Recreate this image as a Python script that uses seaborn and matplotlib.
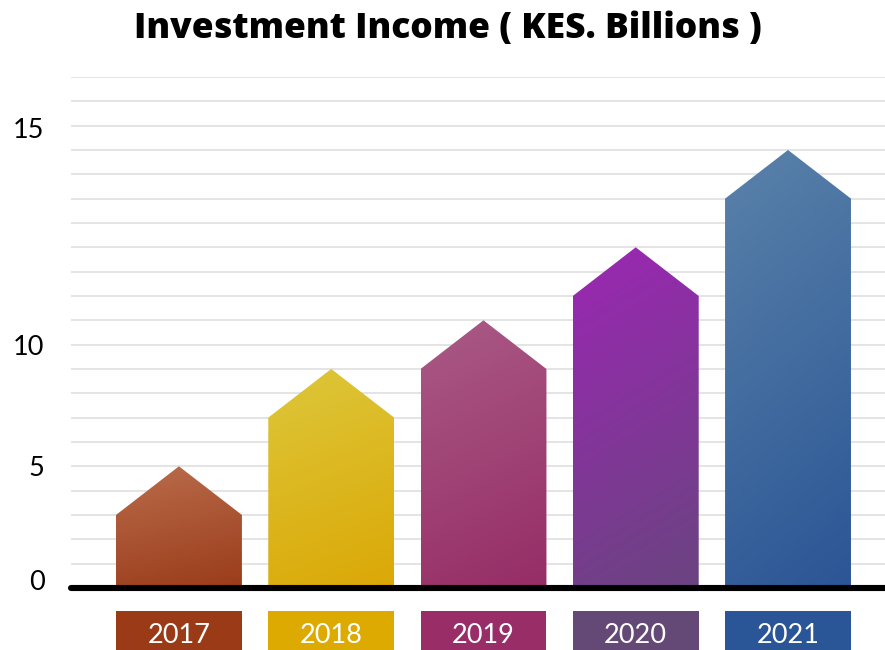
import numpy as np
import pandas as pd
import matplotlib
matplotlib.use("Agg")
import matplotlib.pyplot as plt
import seaborn as sns
from matplotlib.patches import Polygon, Rectangle
from matplotlib.colors import to_rgb

# ---- data -------------------------------------------------------------
years = ["2017", "2018", "2019", "2020", "2021"]
income = [5, 9, 11, 14, 18]            # height of each arrow tip (grid units)
tick_values = [0.33, 5, 10, 18.9]
tick_labels = ["0", "5", "10", "15"]

top_colors = ["#ba6c4c", "#ddc73a", "#aa5a86", "#9b27b3", "#5a82aa"]
bottom_colors = ["#9a3c1a", "#dba806", "#962d66", "#6a4480", "#2b5595"]
label_colors = ["#9a3a17", "#dcaa00", "#982d68", "#644876", "#2a5597"]

df = pd.DataFrame({"year": years, "income": income})

# ---- style ------------------------------------------------------------
sns.set_theme(style="white")
plt.rcParams["font.family"] = ["Lato", "DejaVu Sans"]

fig = plt.figure(figsize=(8.85, 6.5), dpi=100)
ax = fig.add_axes([71 / 885, 0.0, 1 - 71 / 885, 1 - 77 / 650])

sns.barplot(data=df, x="year", y="income", width=0.827, ax=ax,
            color="white", saturation=1, zorder=3)

ax.set_xlim(-0.709, 4.637)
ax.set_ylim(-2.55, 21)

# light horizontal rules
for gy in range(1, 22):
    ax.axhline(gy, color="#e2e2e2", lw=1.3, zorder=0)

head = 2.0  # height of the arrow head
for i, patch in enumerate(ax.patches[:len(years)]):
    x0 = patch.get_x()
    w = patch.get_width()
    h = patch.get_height()
    x1 = x0 + w
    xc = x0 + w / 2
    patch.set_visible(False)

    poly = Polygon([(x0, 0), (x0, h - head), (xc, h), (x1, h - head), (x1, 0)],
                   closed=True, facecolor="none", edgecolor="none",
                   transform=ax.transData)
    ax.add_patch(poly)

    ny, nx = 200, 60
    v = np.linspace(0, 1, ny)[:, None]
    u = np.linspace(0, 1, nx)[None, :]
    t = np.clip(0.82 * v + 0.18 * u, 0, 1)
    c0 = np.array(to_rgb(top_colors[i]))
    c1 = np.array(to_rgb(bottom_colors[i]))
    img = c0[None, None, :] + (c1 - c0)[None, None, :] * t[..., None]
    im = ax.imshow(img, extent=(x0, x1, 0, h), origin="upper",
                   aspect="auto", zorder=3, interpolation="bilinear")
    im.set_clip_path(poly)

    # year label box beneath each arrow
    ax.add_patch(Rectangle((x0, -2.6), w, 1.655, facecolor=label_colors[i],
                           edgecolor="none", zorder=3, clip_on=False))
    ax.text(xc, -1.95, years[i], ha="center", va="center", color="white",
            fontsize=19.5, zorder=4)

ax.axhline(0, color="black", lw=4.4, solid_capstyle="round", zorder=5,
           clip_on=False)

ax.set_xlim(-0.709, 4.637)
ax.set_ylim(-2.55, 21)
ax.set_xticks([])
ax.set_yticks(tick_values)
ax.set_yticklabels(tick_labels, fontsize=19.5, color="black")
ax.tick_params(axis="y", length=0, pad=19)
ax.set_xlabel("")
ax.set_ylabel("")
for s in ax.spines.values():
    s.set_visible(False)

fig.text(448 / 885, 1 - 37.5 / 650, "Investment Income ( KES. Billions )",
         ha="center", va="baseline", fontsize=25.5, fontweight=800,
         family=["Open Sans", "DejaVu Sans"], color="black")

fig.savefig("out.png", dpi=100, facecolor="white")
